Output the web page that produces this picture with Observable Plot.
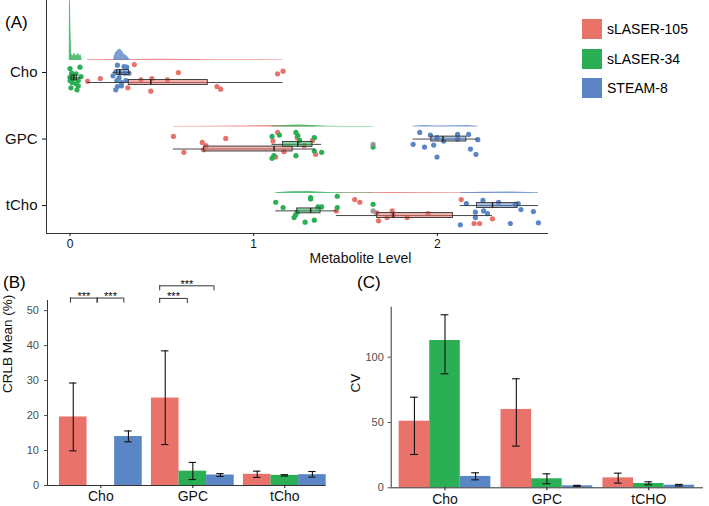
<!DOCTYPE html>
<html><head><meta charset="utf-8">
<script src="https://cdn.jsdelivr.net/npm/d3@7"></script>
<script src="https://cdn.jsdelivr.net/npm/@observablehq/plot@0.6"></script>
<style>
html,body{margin:0;padding:0;background:#fff;}
#fig{position:relative;width:709px;height:506px;overflow:hidden;font-family:"Liberation Sans",Arial,Helvetica,sans-serif;color:#000;}
.plab{position:absolute;font-size:17px;line-height:20px;}
.leg{position:absolute;left:582px;height:20px;display:flex;align-items:center;font-size:14px;white-space:nowrap;}
.leg .sw{display:inline-block;width:20px;height:20px;margin-right:5px;}
</style></head><body><div id="fig"></div>
<script>
// ---------- shared ----------
const seqNames = ["sLASER-105", "sLASER-34", "STEAM-8"];
const seqColors = ["#E9736B", "#2BAF55", "#5B86C6"];
const metabA = ["Cho", "GPC", "tCho"];
const metabB = ["Cho", "GPC", "tCho"];
const metabC = ["Cho", "GPC", "tCHO"];
const ticksA = [0, 1, 2];
const ticksB = [0, 10, 20, 30, 40, 50];
const ticksC = [0, 50, 100];

// ---------- panel A: metabolite levels (points) + jitter (category units) ----------
const cho105 = [0.096,0.165,0.35,0.315,0.386,0.446,0.44,0.53,0.59,0.80,0.82,1.13,1.16];
const cho105Jit = [0.13,0.09,-0.12,0.23,0.11,0.09,0.28,0.11,0.00,0.21,0.25,0.02,-0.02];
const cho34 = [0,0.054,0.009,0.033,0,0.02,0.06,0,0.011,0.033,0.045,0.038,0.005,0.045];
const cho34Jit = [-0.06,-0.08,0.01,0.02,0.07,0.09,0.06,0.12,0.15,0.17,0.20,0.26,0.23,0.12];
const cho8 = [0.258,0.294,0.309,0.249,0.271,0.298,0.321,0.267,0.255,0.28,0.304,0.258,0.249,0.28,0.234];
const cho8Jit = [-0.11,-0.09,-0.08,-0.01,0.01,0.01,0.01,0.08,0.12,0.15,0.12,0.21,0.26,0.20,0.05];
const gpc105 = [0.563,0.62,0.72,0.74,0.727,0.848,1.105,1.13,1.12,1.165,1.237,1.275,1.32,1.337];
const gpc105Jit = [-0.04,0.20,0.05,0.10,0.16,-0.01,0.03,-0.10,0.27,0.19,-0.02,0.10,0.02,0.23];
const gpc34 = [1.10,1.14,1.23,1.24,1.33,1.10,1.11,1.23,1.33,1.37,1.25,1.65];
const gpc34Jit = [-0.04,-0.06,-0.10,-0.05,-0.02,0.29,0.25,0.25,0.18,0.20,0.02,0.12];
const gpc8 = [1.904,1.962,1.998,1.868,1.93,1.98,2.034,1.998,2.11,2.11,2.17,2.22,2.18,2.21];
const gpc8Jit = [-0.10,-0.06,-0.02,0.08,0.12,0.09,0.03,0.27,-0.07,0.00,-0.07,0.01,0.15,0.23];
const tcho105 = [1.55,1.578,1.45,1.67,1.68,1.726,1.754,1.76,1.835,1.95,2.13,2.20,2.23,2.30];
const tcho105Jit = [-0.09,-0.05,0.08,0.11,0.23,0.18,0.08,0.15,0.18,0.12,-0.09,0.27,0.27,0.20];
const tcho34 = [1.12,1.16,1.31,1.31,1.35,1.37,1.455,1.455,1.237,1.228,1.22,1.28,1.33,1.65];
const tcho34Jit = [-0.05,0.03,-0.12,-0.10,0.02,0.02,-0.14,0.03,0.10,0.14,0.18,0.25,0.22,-0.02];
const tcho8 = [2.158,2.248,2.333,2.207,2.252,2.273,2.207,2.125,2.424,2.44,2.455,2.523,2.397,2.55];
const tcho8Jit = [-0.03,-0.08,-0.05,0.10,0.08,0.12,0.18,0.29,-0.02,-0.03,0.06,0.09,0.27,0.26];

// half-violin profiles: [level, relative density]
const cho105Vio = [[0.096,0.012],[0.3,0.018],[0.5,0.02],[0.8,0.015],[1.16,0.01]];
const cho34Vio = [[-0.004,0],[-0.003,1.0],[0.002,1.0],[0.005,0.5],[0.009,0.12],[0.014,0.07],[0.02,0.1],[0.027,0.12],[0.033,0.07],[0.04,0.1],[0.046,0.12],[0.052,0.08],[0.06,0.1],[0.066,0]];
const cho8Vio = [[0.236,0],[0.240,0.06],[0.246,0.12],[0.259,0.17],[0.271,0.195],[0.282,0.17],[0.294,0.11],[0.312,0.07],[0.327,0.01]];
const gpc105Vio = [[0.563,0.01],[0.8,0.013],[1.1,0.025],[1.2,0.022],[1.337,0.01]];
const gpc34Vio = [[1.10,0.012],[1.2,0.03],[1.25,0.035],[1.32,0.028],[1.4,0.012],[1.5,0.008],[1.65,0.008]];
const gpc8Vio = [[1.868,0.012],[1.93,0.028],[2.0,0.02],[2.1,0.024],[2.17,0.028],[2.22,0.012]];
const tcho105Vio = [[1.45,0.01],[1.75,0.018],[2.0,0.014],[2.30,0.01]];
const tcho34Vio = [[1.12,0.012],[1.2,0.03],[1.3,0.036],[1.4,0.02],[1.5,0.009],[1.65,0.008]];
const tcho8Vio = [[2.125,0.012],[2.25,0.024],[2.4,0.028],[2.55,0.012]];

// boxplot statistics, order: Cho(105,34,8), GPC(105,34,8), tCho(105,34,8)
const boxMetab = ["Cho","Cho","Cho","GPC","GPC","GPC","tCho","tCho","tCho"];
const boxSeq = ["sLASER-105","sLASER-34","STEAM-8","sLASER-105","sLASER-34","STEAM-8","sLASER-105","sLASER-34","STEAM-8"];
const boxLo  = [0.096, 0,     0.234, 0.563, 1.10, 1.868, 1.45,  1.12,  2.125];
const boxQ1  = [0.32,  0.009, 0.255, 0.73,  1.16, 1.967, 1.672, 1.237, 2.215];
const boxMed = [0.44,  0.02,  0.271, 1.111, 1.24, 2.03,  1.76,  1.31,  2.30];
const boxQ3  = [0.75,  0.038, 0.321, 1.212, 1.32, 2.158, 2.085, 1.364, 2.437];
const boxHi  = [1.16,  0.06,  0.33,  1.337, 1.37, 2.22,  2.30,  1.455, 2.55];
const outlierMetab = ["GPC", "tCho"];
const outlierSeq = ["sLASER-34", "sLASER-34"];
const outlierValue = [1.65, 1.65];

// ---------- panel B: CRLB mean (%) ----------
const crlbMean105 = [19.6, 25.0, 3.2];
const crlbLo105   = [9.9, 11.7, 2.3];
const crlbHi105   = [29.3, 38.5, 4.1];
const crlbMean34  = [null, 4.1, 2.9];
const crlbLo34    = [null, 1.7, 2.7];
const crlbHi34    = [null, 6.6, 3.1];
const crlbMean8   = [14.0, 3.0, 3.1];
const crlbLo8     = [12.5, 2.6, 2.4];
const crlbHi8     = [15.6, 3.4, 4.0];
// significance brackets (x in group units, y in CRLB %)
const bracketX1 = [0.67, 0.96, 1.64, 1.64];
const bracketX2 = [0.96, 1.25, 1.94, 2.23];
const bracketY  = [53.6, 53.6, 53.5, 57.1];
const bracketLabel = ["***", "***", "***", "***"];

// ---------- panel C: CV ----------
const cvMean105 = [51.0, 60.0, 7.6];
const cvLo105   = [25.5, 31.9, 3.6];
const cvHi105   = [69.4, 83.5, 11.2];
const cvMean34  = [112.8, 6.9, 3.3];
const cvLo34    = [87.3, 3.1, 2.3];
const cvHi34    = [132.5, 10.7, 4.6];
const cvMean8   = [8.7, 1.5, 2.0];
const cvLo8     = [6.1, 1.1, 1.4];
const cvHi8     = [11.5, 1.9, 2.6];

// ================= rendering =================
const FONT = '"Liberation Sans", Arial, Helvetica, sans-serif';
const fig = document.getElementById("fig");
function place(el, left, top) { el.style.position = "absolute"; el.style.left = left + "px"; el.style.top = top + "px"; fig.appendChild(el); return el; }
const si = name => seqNames.indexOf(name);

// ---- Panel A ----
const groupsA = [
  {m:0,s:0,vals:cho105,jit:cho105Jit,vio:cho105Vio},
  {m:0,s:1,vals:cho34,jit:cho34Jit,vio:cho34Vio},
  {m:0,s:2,vals:cho8,jit:cho8Jit,vio:cho8Vio},
  {m:1,s:0,vals:gpc105,jit:gpc105Jit,vio:gpc105Vio},
  {m:1,s:1,vals:gpc34,jit:gpc34Jit,vio:gpc34Vio},
  {m:1,s:2,vals:gpc8,jit:gpc8Jit,vio:gpc8Vio},
  {m:2,s:0,vals:tcho105,jit:tcho105Jit,vio:tcho105Vio},
  {m:2,s:1,vals:tcho34,jit:tcho34Jit,vio:tcho34Vio},
  {m:2,s:2,vals:tcho8,jit:tcho8Jit,vio:tcho8Vio}
];
const boxOffset = [0.15, 0.08, 0.0];
const VIO_BASE = -0.18, VIO_SCALE = 0.9, BOX_H = 0.037;
const marksA = [];
for (const g of groupsA) {
  const base = g.m + 1 + VIO_BASE;
  marksA.push(Plot.areaY(g.vio, {x: d => d[0], y1: () => base, y2: d => base - d[1] * VIO_SCALE,
    fill: seqColors[g.s], fillOpacity: 0.8, curve: "linear"}));
}
for (const g of groupsA) {
  marksA.push(Plot.dot(g.vals, {x: d => d, y: (d, i) => g.m + 1 + g.jit[i], r: 2.6, fill: seqColors[g.s], stroke: null}));
}
const boxData = boxLo.map((lo, i) => {
  const m = metabA.indexOf(boxMetab[i]), s = si(boxSeq[i]);
  return {m, s, lo, q1: boxQ1[i], med: boxMed[i], q3: boxQ3[i], hi: boxHi[i], y: m + 1 + boxOffset[s]};
});
const outData = outlierValue.map((v, i) => {
  const m = metabA.indexOf(outlierMetab[i]), s = si(outlierSeq[i]);
  return {v, y: m + 1 + boxOffset[s]};
});
marksA.push(
  Plot.ruleY(boxData, {y: "y", x1: "lo", x2: "hi", stroke: "#333", strokeWidth: 0.9}),
  Plot.rect(boxData, {x1: "q1", x2: "q3", y1: d => d.y - BOX_H, y2: d => d.y + BOX_H,
    fill: d => seqColors[d.s], fillOpacity: 0.55, stroke: "#333", strokeWidth: 0.9}),
  Plot.ruleX(boxData, {x: "med", y1: d => d.y - BOX_H, y2: d => d.y + BOX_H, stroke: "#222", strokeWidth: 1.5}),
  Plot.dot(outData, {x: "v", y: "y", r: 2.6, fill: "#8c8c8c", fillOpacity: 0.85}),
  Plot.ruleX([-0.128], {stroke: "#333"}),
  Plot.ruleY([3.42], {stroke: "#333"}),
  Plot.axisY({ticks: [1, 2, 3], tickFormat: d => metabA[d - 1], tickSize: 4, tickPadding: 5, fontSize: 15, label: null, color: "#111"}),
  Plot.axisX({ticks: ticksA, tickFormat: d => String(d), tickSize: 3, tickPadding: 3, fontSize: 12, label: null, color: "#111"}),
  Plot.text(["Metabolite Level"], {text: d => d, frameAnchor: "bottom", dx: 63, dy: 25, fontSize: 14, lineAnchor: "middle", fill: "#111"})
);
const plotA = Plot.plot({
  width: 560, height: 270, marginLeft: 46, marginRight: 12, marginTop: 0, marginBottom: 37,
  x: {domain: [-0.128, 2.605]},
  y: {domain: [-0.083, 3.42], reverse: true},
  color: {type: "identity"},
  style: {fontFamily: FONT, background: "transparent", overflow: "visible", color: "#000"},
  marks: marksA
});
place(plotA, 0, 0);

// ---- bar panel builder ----
function barPanel(cats, series, opts) {
  const bars = [];
  cats.forEach((c, i) => {
    series.forEach(([mean, lo, hi], s) => {
      if (mean[i] == null) return;
      bars.push({x: i + 1 + (s - 1) * 0.3, mean: mean[i], lo: lo[i], hi: hi[i], s});
    });
  });
  const cap = opts.cap;
  const marks = [
    Plot.rect(bars, {x1: d => d.x - 0.15, x2: d => d.x + 0.15, y1: () => 0, y2: "mean", fill: d => seqColors[d.s]}),
    Plot.ruleX(bars, {x: "x", y1: "lo", y2: "hi", stroke: "#111", strokeWidth: 1.1}),
    Plot.ruleY(bars, {y: "lo", x1: d => d.x - cap, x2: d => d.x + cap, stroke: "#111", strokeWidth: 1.1}),
    Plot.ruleY(bars, {y: "hi", x1: d => d.x - cap, x2: d => d.x + cap, stroke: "#111", strokeWidth: 1.1}),
    Plot.ruleX([opts.xDomain[0]], {stroke: "#333"}),
    Plot.ruleY([0], {stroke: "#333"}),
    Plot.axisY({ticks: opts.yTicks, tickSize: 3, tickPadding: opts.tickPad, fontSize: 11, label: null, color: "#4d4d4d"}),
    Plot.axisX({ticks: [1, 2, 3], tickFormat: d => cats[d - 1], tickSize: 3, tickPadding: 3, fontSize: 14, label: null, color: "#111"}),
    Plot.text([opts.yLabel], {text: d => d, frameAnchor: "left", rotate: -90, dx: opts.labelDx, dy: opts.labelDy, fontSize: 13.5, fill: "#111"})
  ];
  if (opts.extra) marks.push(...opts.extra);
  return Plot.plot({
    width: opts.width, height: opts.height,
    marginLeft: opts.ml, marginRight: opts.mr, marginTop: opts.mt, marginBottom: opts.mb,
    x: {domain: opts.xDomain}, y: {domain: opts.yDomain},
    color: {type: "identity"},
    style: {fontFamily: FONT, background: "transparent", overflow: "visible", color: "#000"},
    marks
  });
}

// ---- Panel B ----
const brData = bracketX1.map((x1, i) => ({x1, x2: bracketX2[i], y: bracketY[i], label: bracketLabel[i]}));
const plotB = barPanel(metabB, [[crlbMean105, crlbLo105, crlbHi105], [crlbMean34, crlbLo34, crlbHi34], [crlbMean8, crlbLo8, crlbHi8]], {
  width: 340, height: 236, ml: 47, mr: 14.3, mt: 30, mb: 21,
  xDomain: [0.42, 3.45], yDomain: [0, 52.9], yTicks: ticksB, tickPad: 5.5, cap: 0.04,
  yLabel: "CRLB Mean (%)", labelDx: -39.5, labelDy: 0,
  extra: [
    Plot.ruleY(brData, {y: "y", x1: "x1", x2: "x2", stroke: "#333", strokeWidth: 1}),
    Plot.ruleX(brData, {x: "x1", y1: d => d.y - 1.45, y2: "y", stroke: "#333", strokeWidth: 1}),
    Plot.ruleX(brData, {x: "x2", y1: d => d.y - 1.45, y2: "y", stroke: "#333", strokeWidth: 1}),
    Plot.text(brData, {x: d => (d.x1 + d.x2) / 2, y: "y", text: "label", fontSize: 11, dy: 2, lineAnchor: "bottom", fill: "black"})
  ]
});
place(plotB, 0, 270);

// ---- Panel C ----
const plotC = barPanel(metabC, [[cvMean105, cvLo105, cvHi105], [cvMean34, cvLo34, cvHi34], [cvMean8, cvLo8, cvHi8]], {
  width: 364, height: 236, ml: 45.7, mr: 6, mt: 36.7, mb: 18.7,
  xDomain: [0.472, 3.537], yDomain: [0, 138.3], yTicks: ticksC, tickPad: 4.4, cap: 0.038,
  yLabel: "CV", labelDx: -36, labelDy: -5
});
place(plotC, 345, 270);

// ---- panel labels ----
[["(A)", 5, 13], ["(B)", 3, 273], ["(C)", 357, 273]].forEach(([t, l, tp]) => {
  const d = document.createElement("div"); d.className = "plab"; d.textContent = t; place(d, l, tp);
});

// ---- legend ----
const legTops = [18.5, 48.5, 78];
seqNames.forEach((n, i) => {
  const d = document.createElement("div"); d.className = "leg";
  const sw = document.createElement("span"); sw.className = "sw"; sw.style.background = seqColors[i];
  d.appendChild(sw); d.appendChild(document.createTextNode(n));
  fig.appendChild(d); d.style.top = legTops[i] + "px";
});
</script></body></html>
